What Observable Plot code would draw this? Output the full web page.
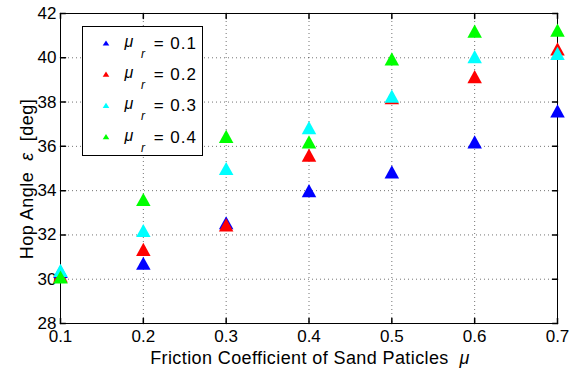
<!DOCTYPE html>
<html><head><meta charset="utf-8">
<script src="https://cdn.jsdelivr.net/npm/d3@7"></script>
<script src="https://cdn.jsdelivr.net/npm/@observablehq/plot@0.6"></script>
<style>body{margin:0;background:#fff} svg{display:block}</style>
</head><body><div id="chart"></div>
<script>
// Friction coefficient of sand particles (x)
const mu = [0.1, 0.2, 0.3, 0.4, 0.5, 0.6, 0.7];
// series labels (mu_r) and colours
const seriesNames = ["0.1", "0.2", "0.3", "0.4"];
const seriesColors = ["#0000ff", "#ff0000", "#00ffff", "#00ff00"];
// Hop angle [deg] for each mu_r
const hopMuR01 = [30.35, 30.72, 32.55, 34.0, 34.85, 36.2, 37.6];
const hopMuR02 = [30.15, 31.35, 32.45, 35.6, 38.2, 39.15, 40.4];
const hopMuR03 = [30.4, 32.2, 35.0, 36.85, 38.27, 40.05, 40.2];
const hopMuR04 = [30.1, 33.6, 36.45, 36.2, 39.95, 41.2, 41.25];
const xTicks = [0.1, 0.2, 0.3, 0.4, 0.5, 0.6, 0.7];
const yTicks = [28, 30, 32, 34, 36, 38, 40, 42];
const xLabel = "Friction Coefficient of Sand Paticles";
const yLabel = "Hop Angle";

const allSeries = [hopMuR01, hopMuR02, hopMuR03, hopMuR04];
const data = [];
allSeries.forEach((vals, si) => vals.forEach((v, i) => data.push({mu: mu[i], hop: v, s: seriesNames[si]})));

// triangle centred on its bounding box (MATLAB '^' marker)
const tri = {draw(ctx, size) {
  const r = Math.sqrt(size / Math.PI);
  const w = r * 1.1;
  ctx.moveTo(0, -r); ctx.lineTo(w, r); ctx.lineTo(-w, r); ctx.closePath();
}};
const tickShape = {draw(ctx, l) { ctx.moveTo(0, 0); ctx.lineTo(0, -l); }};
const font = "'Liberation Sans', Arial, sans-serif";

const chart = Plot.plot({
  width: 577, height: 373,
  marginLeft: 60, marginRight: 20, marginTop: 13, marginBottom: 50,
  style: {fontFamily: font, fontSize: "17px", color: "#000", background: "#fff"},
  x: {domain: [0.1, 0.7]},
  y: {domain: [28, 42]},
  color: {domain: seriesNames, range: seriesColors},
  marks: [
    Plot.gridX(xTicks, {stroke: "#000", strokeOpacity: 0.55, strokeDasharray: "1,3"}),
    Plot.gridY(yTicks, {stroke: "#000", strokeOpacity: 0.55, strokeDasharray: "1,3"}),
    Plot.vector(xTicks, {x: d => d, frameAnchor: "bottom", rotate: 0, length: 5, anchor: "start", shape: tickShape, stroke: "#000"}),
    Plot.vector(xTicks, {x: d => d, frameAnchor: "top", rotate: 180, length: 5, anchor: "start", shape: tickShape, stroke: "#000"}),
    Plot.vector(yTicks, {y: d => d, frameAnchor: "left", rotate: 90, length: 5, anchor: "start", shape: tickShape, stroke: "#000"}),
    Plot.vector(yTicks, {y: d => d, frameAnchor: "right", rotate: -90, length: 5, anchor: "start", shape: tickShape, stroke: "#000"}),
    Plot.frame({stroke: "#000"}),
    Plot.axisX({ticks: xTicks, tickSize: 0, tickPadding: 6, tickFormat: d => d.toFixed(1), label: null}),
    Plot.axisY({ticks: yTicks, tickSize: 0, tickPadding: 4, tickFormat: d => String(d), label: null}),
    Plot.dot(data, {x: "mu", y: "hop", fill: "s", symbol: tri, r: 6.6, stroke: null})
  ]
});
document.getElementById("chart").appendChild(chart);

const svg = d3.select(chart);
// axis labels
const xl = svg.append("text").attr("x", 310).attr("y", 364).attr("text-anchor", "middle")
  .style("font-family", font).style("font-size", "18px").style("letter-spacing", "0.4px");
xl.append("tspan").text(xLabel + "  ");
xl.append("tspan").attr("font-style", "italic").text("μ");
const yl = svg.append("text").attr("transform", "translate(33,179) rotate(-90)").attr("text-anchor", "middle")
  .style("font-family", font).style("font-size", "18px").style("letter-spacing", "0.5px");
yl.append("tspan").text(yLabel + "  ");
yl.append("tspan").attr("font-style", "italic").text("ε");
yl.append("tspan").text("  [deg]");

// legend
const lg = svg.append("g").style("font-family", font);
lg.append("rect").attr("x", 82.5).attr("y", 26.5).attr("width", 120).attr("height", 129)
  .attr("fill", "#fff").attr("stroke", "#000");
seriesNames.forEach((n, i) => {
  const cy = 43 + i * 31.2;
  lg.append("path").attr("d", "M0,-2.6L3.3,2.6L-3.3,2.6Z").attr("transform", `translate(106,${cy})`).attr("fill", seriesColors[i]);
  lg.append("text").attr("x", 129).attr("y", cy + 4).style("font-size", "16px").style("font-style", "italic").text("μ");
  lg.append("text").attr("x", 143).attr("y", cy + 15).style("font-size", "12px").style("font-style", "italic").text("r");
  lg.append("text").attr("x", 197).attr("y", cy + 6).attr("text-anchor", "end")
    .style("font-size", "17px").style("letter-spacing", "1px").text("= " + n);
});
</script></body></html>
